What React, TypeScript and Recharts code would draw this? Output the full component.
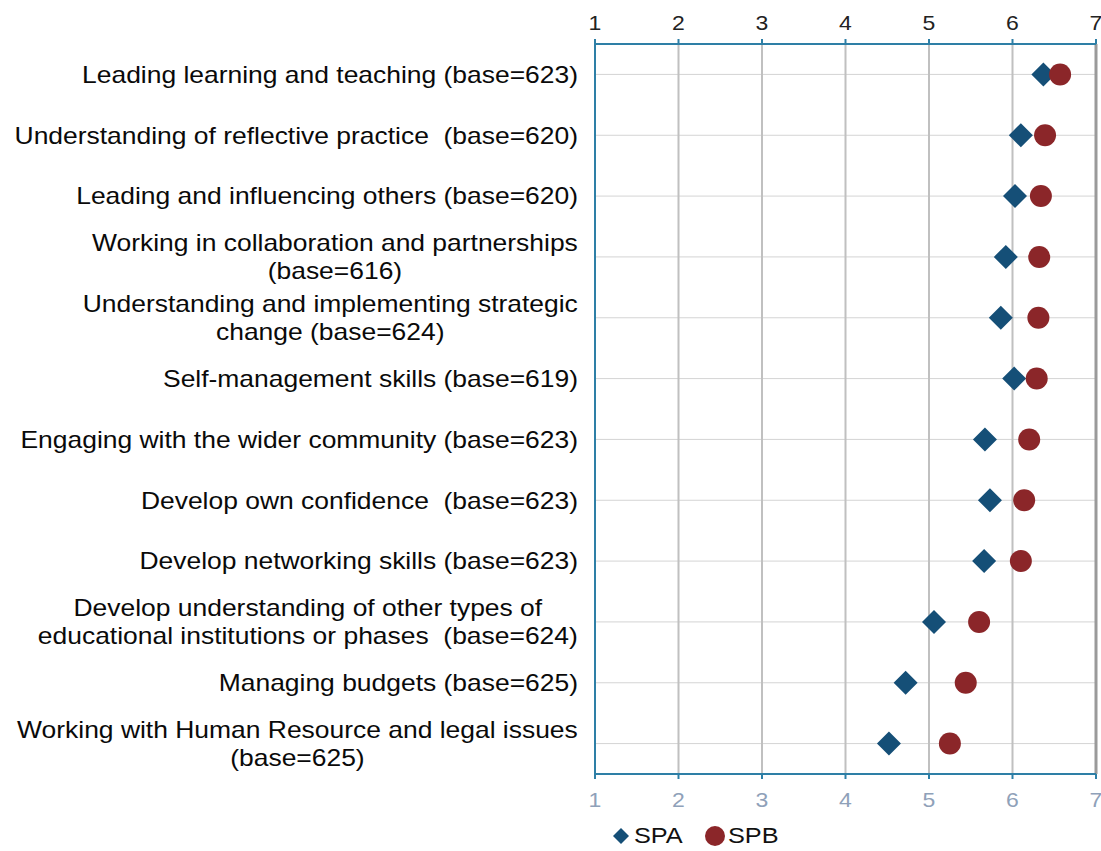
import React from 'react'
import { ComposedChart, Scatter, XAxis, YAxis, CartesianGrid, ReferenceLine } from 'recharts'

const categories = [
  'Leading learning and teaching (base=623)',
  'Understanding of reflective practice  (base=620)',
  'Leading and influencing others (base=620)',
  'Working in collaboration and partnerships\n(base=616)',
  'Understanding and implementing strategic\nchange (base=624)',
  'Self-management skills (base=619)',
  'Engaging with the wider community (base=623)',
  'Develop own confidence  (base=623)',
  'Develop networking skills (base=623)',
  'Develop understanding of other types of\neducational institutions or phases  (base=624)',
  'Managing budgets (base=625)',
  'Working with Human Resource and legal issues\n(base=625)',
]

const spa = [6.37, 6.1, 6.03, 5.92, 5.86, 6.02, 5.67, 5.73, 5.66, 5.06, 4.72, 4.52]
const spb = [6.57, 6.39, 6.34, 6.32, 6.31, 6.29, 6.2, 6.14, 6.1, 5.6, 5.44, 5.25]

const xTicks = [1, 2, 3, 4, 5, 6, 7]

const SPA_COLOR = '#154f77'
const SPB_COLOR = '#8b2629'
const AXIS_COLOR = '#2e7fa6'
const FONT = "'Liberation Sans', Arial, sans-serif"
const LABEL_SIZE = 23
const STRETCH = 1.15

const data = categories.map((name, i) => ({ name, spa: spa[i], spb: spb[i] }))

let ctx: CanvasRenderingContext2D | null = null
function measure(text: string) {
  if (!ctx) {
    ctx = document.createElement('canvas').getContext('2d')
  }
  if (!ctx) return text.length * LABEL_SIZE * 0.5
  ctx.font = `${LABEL_SIZE}px ${FONT}`
  return ctx.measureText(text).width
}

function CategoryTick(props: any) {
  const { x, y, payload } = props
  const lines: string[] = String(payload.value).split('\n')
  const right = x - 9
  const multi = lines.length > 1
  const maxW = Math.max(...lines.map(measure)) * STRETCH
  const ax = multi ? right - maxW / 2 : right
  return (
    <g transform={`translate(${ax},${y}) scale(${STRETCH},1)`}>
      <text
        textAnchor={multi ? 'middle' : 'end'}
        fontSize={LABEL_SIZE}
        fontFamily={FONT}
        fill="#0a0a0a"
        style={{ whiteSpace: 'pre' }}
      >
        {lines.map((l, i) => (
          <tspan key={i} x={0} y={(i - (lines.length - 1) / 2) * 28} dy="0.36em">
            {l}
          </tspan>
        ))}
      </text>
    </g>
  )
}

function NumberTick(props: any) {
  const { x, y, payload, fill, orientation } = props
  const dy = orientation === 'top' ? -1 : 20
  return (
    <g transform={`translate(${x},${y}) scale(${STRETCH},1)`}>
      <text textAnchor="middle" fontSize={20} fontFamily={FONT} fill={fill} y={dy}>
        {payload.value}
      </text>
    </g>
  )
}

function Diamond(props: any) {
  const { cx, cy } = props
  const r = 12
  return (
    <polygon
      points={`${cx},${cy - r} ${cx + r},${cy} ${cx},${cy + r} ${cx - r},${cy}`}
      fill={SPA_COLOR}
    />
  )
}

function Dot(props: any) {
  const { cx, cy } = props
  return <circle cx={cx} cy={cy} r={11} fill={SPB_COLOR} />
}

export default function App() {
  return (
    <div style={{ position: 'absolute', left: 0, top: 0, width: 1101, height: 851, background: '#fff' }}>
      <ComposedChart
        layout="vertical"
        width={1101}
        height={851}
        data={data}
        margin={{ top: 14, right: 5, bottom: 47, left: 0 }}
      >
        <CartesianGrid xAxisId="bottom" vertical={false} stroke="#d4d4d4" strokeWidth={1} />
        <CartesianGrid xAxisId="bottom" horizontal={false} stroke="#c0c0c0" strokeWidth={2} />
        <XAxis
          xAxisId="top"
          orientation="top"
          type="number"
          domain={[1, 7]}
          allowDataOverflow
          ticks={xTicks}
          height={30}
          axisLine={{ stroke: AXIS_COLOR, strokeWidth: 2 }}
          tickLine={{ stroke: AXIS_COLOR, strokeWidth: 2 }}
          tickSize={5}
          tickMargin={8}
          tick={<NumberTick fill="#222" orientation="top" />}
        />
        <XAxis
          xAxisId="bottom"
          orientation="bottom"
          type="number"
          domain={[1, 7]}
          allowDataOverflow
          ticks={xTicks}
          height={30}
          axisLine={{ stroke: AXIS_COLOR, strokeWidth: 2 }}
          tickLine={{ stroke: AXIS_COLOR, strokeWidth: 2 }}
          tickSize={5}
          tickMargin={8}
          tick={<NumberTick fill="#8fa1b9" orientation="bottom" />}
        />
        <YAxis
          type="category"
          dataKey="name"
          scale="band"
          width={595}
          axisLine={{ stroke: AXIS_COLOR, strokeWidth: 2 }}
          tickLine={false}
          interval={0}
          tick={<CategoryTick />}
        />
        <ReferenceLine xAxisId="bottom" x={7} stroke="#9a9a9a" strokeWidth={3} />
        <Scatter
          name="SPA"
          xAxisId="bottom"
          dataKey="spa"
          shape={<Diamond />}
          isAnimationActive={false}
        />
        <Scatter
          name="SPB"
          xAxisId="bottom"
          dataKey="spb"
          shape={<Dot />}
          isAnimationActive={false}
        />
      </ComposedChart>
      <div
        style={{
          position: 'absolute',
          left: 608,
          top: 823,
          display: 'flex',
          alignItems: 'center',
          fontFamily: FONT,
          fontSize: 22,
          color: '#111',
        }}
      >
        <svg width={26} height={26}>
          <polygon points="13,5 21,13 13,21 5,13" fill={SPA_COLOR} />
        </svg>
        <span style={{ display: 'inline-block', transform: 'scaleX(1.15)', transformOrigin: 'left', marginRight: 26 }}>SPA</span>
        <svg width={26} height={26}>
          <circle cx={13} cy={13} r={10} fill={SPB_COLOR} />
        </svg>
        <span style={{ display: 'inline-block', transform: 'scaleX(1.15)', transformOrigin: 'left' }}>SPB</span>
      </div>
    </div>
  )
}
